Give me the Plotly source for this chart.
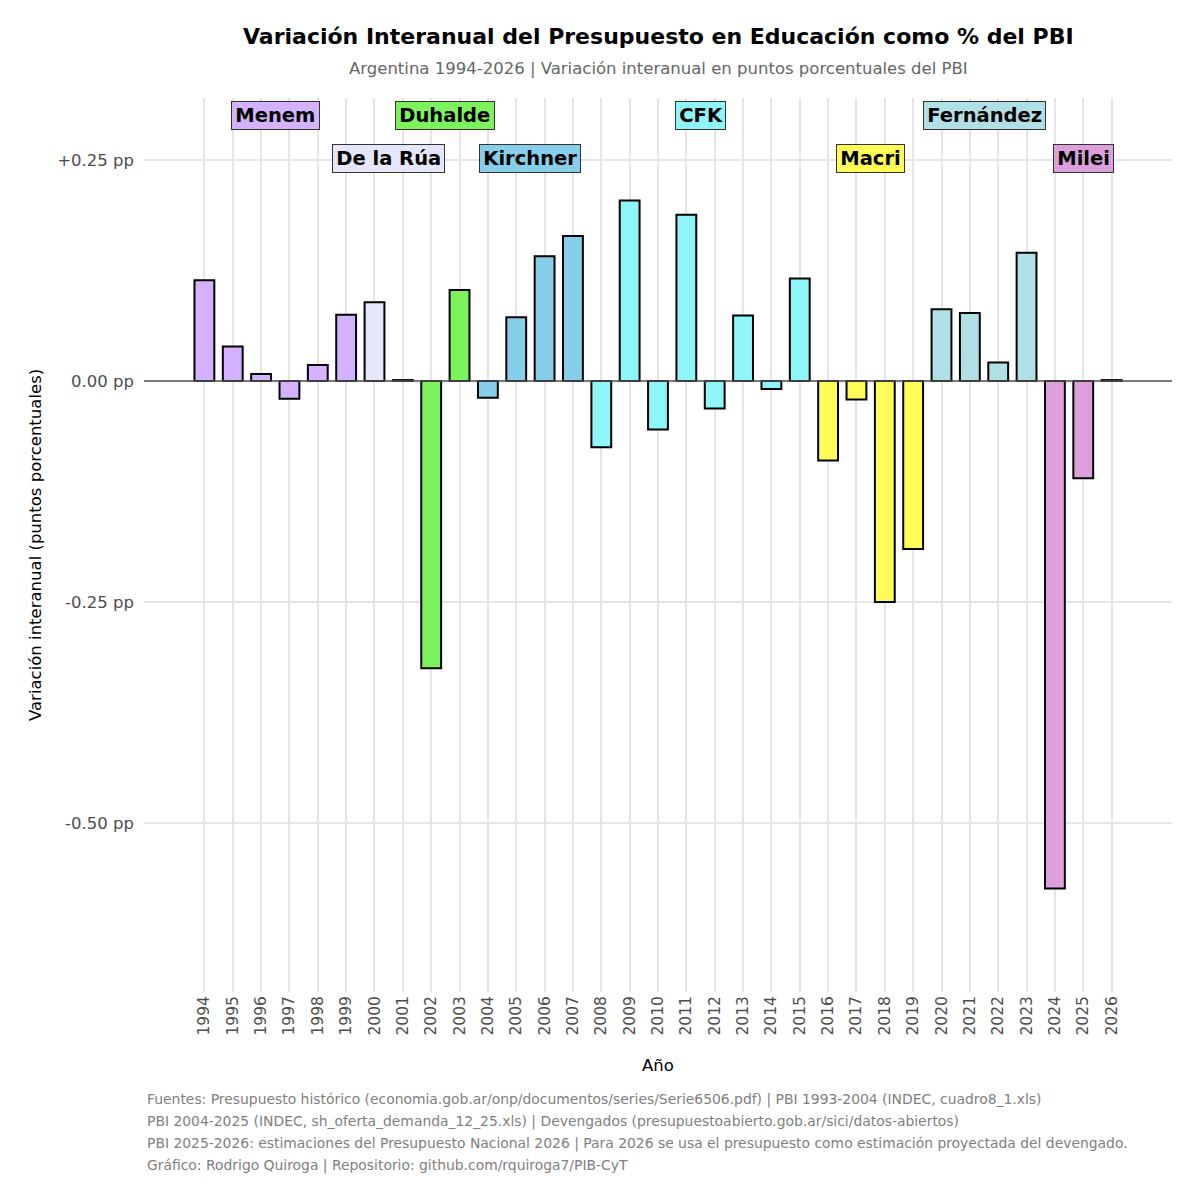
import plotly.graph_objects as go

# Datos: variación interanual del presupuesto en educación (% del PBI), en pp
years = list(range(1994, 2027))
variation = [
    0.114, 0.039, 0.008, -0.020, 0.018, 0.075, 0.089, 0.001,
    -0.325, 0.103, -0.019, 0.072, 0.141, 0.164, -0.075, 0.204,
    -0.055, 0.188, -0.031, 0.074, -0.009, 0.116, -0.090, -0.021,
    -0.250, -0.190, 0.081, 0.077, 0.021, 0.145, -0.574, -0.110,
    0.001,
]
presidents = ["Menem", "De la Rúa", "Duhalde", "Kirchner", "CFK", "Macri", "Fernández", "Milei"]
first_year = [1994, 2000, 2002, 2004, 2008, 2016, 2020, 2024]
last_year = [1999, 2001, 2003, 2007, 2015, 2019, 2023, 2026]
president_colors = ["#D4B2FF", "#E6E6FA", "#7CF25C", "#87CEEB", "#8EF5F8", "#FFFC57", "#B0E0E6", "#DDA0DD"]
y_ticks = [0.25, 0.0, -0.25, -0.5]
y_tick_labels = ["+0.25 pp", "0.00 pp", "-0.25 pp", "-0.50 pp"]

caption_lines = [
    "Fuentes: Presupuesto histórico (economia.gob.ar/onp/documentos/series/Serie6506.pdf) | PBI 1993-2004 (INDEC, cuadro8_1.xls)",
    "PBI 2004-2025 (INDEC, sh_oferta_demanda_12_25.xls) | Devengados (presupuestoabierto.gob.ar/sici/datos-abiertos)",
    "PBI 2025-2026: estimaciones del Presupuesto Nacional 2026 | Para 2026 se usa el presupuesto como estimación proyectada del devengado.",
    "Gráfico: Rodrigo Quiroga | Repositorio: github.com/rquiroga7/PIB-CyT",
]

FONT = "DejaVu Sans"

# Área del gráfico en píxeles de la página (el body del navegador suma 8px)
PLOT_L, PLOT_R, PLOT_T, PLOT_B = 144, 1172, 98, 992
PAGE_OFF = 8


def px_x(x):
    return (x - PLOT_L) / (PLOT_R - PLOT_L)


def px_y(y):
    return (PLOT_B - y) / (PLOT_B - PLOT_T)


def color_for(year):
    for a, b, col in zip(first_year, last_year, president_colors):
        if a <= year <= b:
            return col
    return "#cccccc"


bar_colors = [color_for(y) for y in years]

fig = go.Figure()
fig.add_trace(
    go.Bar(
        x=years,
        y=variation,
        width=0.7,
        marker=dict(color=bar_colors, line=dict(color="black", width=2)),
        showlegend=False,
    )
)

# Línea de cero
fig.add_hline(y=0, line=dict(color="#555555", width=1.5), layer="above")

# Etiquetas de presidentes (alternando altura)
for i, (name, a, b, col) in enumerate(zip(presidents, first_year, last_year, president_colors)):
    fig.add_annotation(
        x=(a + b) / 2,
        y=0.30 if i % 2 == 0 else 0.252,
        xref="x",
        yref="y",
        text=f"<span style='font-size:4px'>&nbsp;</span><b>{name}</b><span style='font-size:4px'>&nbsp;</span>",
        showarrow=False,
        font=dict(family=FONT, size=19.5, color="black"),
        bgcolor=col,
        bordercolor="#333333",
        borderwidth=1,
        borderpad=2,
    )

# Título y subtítulo
fig.add_annotation(
    x=0.5, xref="paper", y=px_y(36), yref="paper", yanchor="middle",
    text="<b>Variación Interanual del Presupuesto en Educación como % del PBI</b>",
    showarrow=False, font=dict(family=FONT, size=22, color="black"),
)
fig.add_annotation(
    x=0.5, xref="paper", y=px_y(69), yref="paper", yanchor="middle",
    text="Argentina 1994-2026 | Variación interanual en puntos porcentuales del PBI",
    showarrow=False, font=dict(family=FONT, size=16.5, color="#666666"),
)

# Títulos de ejes
fig.add_annotation(
    x=0.5, xref="paper", y=px_y(1065), yref="paper", yanchor="middle",
    text="Año", showarrow=False, font=dict(family=FONT, size=16.5, color="black"),
)
fig.add_annotation(
    x=px_x(35), xref="paper", y=0.5, yref="paper", xanchor="center", yanchor="middle",
    text="Variación interanual (puntos porcentuales)", textangle=-90,
    showarrow=False, font=dict(family=FONT, size=16.5, color="black"),
)

# Fuentes
for i, line in enumerate(caption_lines):
    fig.add_annotation(
        x=px_x(145), xref="paper", y=px_y(1099 + 22 * i), yref="paper",
        xanchor="left", yanchor="middle", text=line, showarrow=False,
        font=dict(family=FONT, size=13.9, color="#808080"),
    )

fig.update_layout(
    width=1200,
    height=1200,
    margin=dict(
        l=PLOT_L - PAGE_OFF,
        r=1200 + PAGE_OFF - PLOT_R,
        t=PLOT_T - PAGE_OFF,
        b=1200 + PAGE_OFF - PLOT_B,
        autoexpand=False,
    ),
    plot_bgcolor="white",
    paper_bgcolor="white",
    font=dict(family=FONT, color="#4d4d4d"),
)

fig.update_xaxes(
    range=[1991.87, 2028.13],
    tickmode="array",
    tickvals=years,
    ticktext=[str(y) for y in years],
    tickangle=-90,
    tickfont=dict(family=FONT, size=15.5, color="#4d4d4d"),
    showgrid=True,
    gridcolor="#e5e5e5",
    gridwidth=2,
    zeroline=False,
    showline=False,
    ticks="",
    automargin=False,
)
fig.update_yaxes(
    range=[-0.691, 0.320],
    tickmode="array",
    tickvals=y_ticks,
    ticktext=y_tick_labels,
    tickfont=dict(family=FONT, size=16.5, color="#4d4d4d"),
    showgrid=True,
    gridcolor="#e5e5e5",
    gridwidth=2,
    zeroline=False,
    showline=False,
    ticks="",
    ticklabelstandoff=9,
    automargin=False,
)

fig.write_html("out.html")
